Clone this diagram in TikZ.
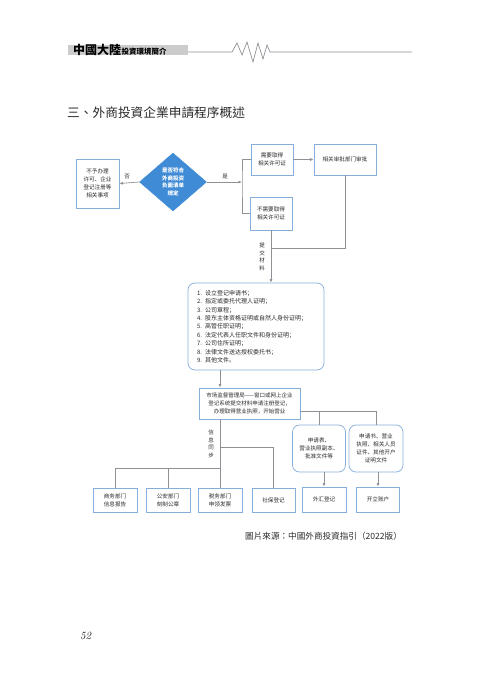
\documentclass[tikz,border=0pt]{standalone}
\usepackage{fontspec}
\usetikzlibrary{shapes.geometric,arrows.meta}
\newfontfamily\cjk{Noto Sans CJK SC}
\newfontfamily\cjktc{Noto Sans CJK TC}
\definecolor{bbl}{HTML}{86AEDB}
\definecolor{lgray}{HTML}{8E9196}
\definecolor{dblue}{HTML}{3F8BD6}
\definecolor{txt}{HTML}{2A2A2A}
\tikzset{
  box/.style={draw=bbl, line width=0.7pt, fill=white, inner sep=1pt, align=center,
    text=txt, font=\cjk\fontsize{5.6}{8}\selectfont},
  rbox/.style={box, rounded corners=7pt},
  conn/.style={draw=lgray, line width=0.7pt},
  arr/.style={conn, -{Latex[length=3.5pt,width=3pt]}},
  lab/.style={inner sep=0pt, text=txt, align=center, font=\cjk\fontsize{5.5}{7.6}\selectfont}
}
\begin{document}
\begin{tikzpicture}[x=1pt,y=-1pt]
\useasboundingbox (0,0) rectangle (480,679);
% header
\fill[gray!40] (68,45) rectangle (188,55);
\node[anchor=base west, inner sep=0pt, font=\cjktc\bfseries\fontsize{12}{12}\selectfont] (hd1) at (73,55) {中國大陸};
\node[anchor=base west, inner sep=0pt, font=\cjktc\bfseries\fontsize{7.5}{8}\selectfont] (hd2) at (hd1.base east) {投資環境簡介};
\draw[lgray, line width=0.7pt] (188,52) -- (232,52) -- (237,43) -- (242,55) -- (247,42) -- (253,62) -- (258,43) -- (263,59) -- (267,45) -- (270,52) -- (412,52);
% title
\node[anchor=west, inner sep=0pt, text=txt, font=\cjktc\fontsize{12.7}{13}\selectfont] (title) at (67,113) {三、外商投資企業申請程序概述};
% diagram
\node[diamond, fill=dblue, draw=dblue, inner sep=0pt, minimum width=67, minimum height=58, text=white, align=center, font=\cjk\bfseries\fontsize{5.5}{7.5}\selectfont] (d) at (173,182) {是否符合\\外商投资\\负面清单\\规定};
\node[box, minimum width=43, minimum height=49] (no) at (97.5,183.5) {不予办理\\许可、企业\\登记注册等\\相关事项};
\node[box, minimum width=42, minimum height=31] (need) at (272,159.5) {需要取得\\相关许可证};
\node[box, minimum width=42, minimum height=33] (noneed) at (271,213.5) {不需要取得\\相关许可证};
\node[box, minimum width=62, minimum height=31] (appr) at (345,159.5) {相关审批部门审批};
\node[rbox, minimum width=136, minimum height=87, text width=118pt, align=left, font=\cjk\fontsize{6}{8.4}\selectfont] (list) at (256,326.5) {1. 设立登记申请书；\\2. 指定或委托代理人证明；\\3. 公司章程；\\4. 股东主体资格证明或自然人身份证明；\\5. 高管任职证明；\\6. 法定代表人任职文件和身份证明；\\7. 公司住所证明；\\8. 法律文件送达授权委托书；\\9. 其他文件。};
\node[box, minimum width=101, minimum height=31, font=\cjk\fontsize{5.5}{7.8}\selectfont] (mkt) at (249.5,403.5) {市场监督管理局——窗口或网上企业\\登记系统提交材料申请注册登记，\\办理取得营业执照，开始营业};
\node[box, minimum width=44, minimum height=24] (b1) at (115,500) {商务部门\\信息报告};
\node[box, minimum width=44, minimum height=24] (b2) at (168,500) {公安部门\\刻制公章};
\node[box, minimum width=44, minimum height=24] (b3) at (220,500) {税务部门\\申领发票};
\node[box, minimum width=43, minimum height=24] (b4) at (273.5,500) {社保登记};
\node[rbox, minimum width=53, minimum height=47] (r1) at (319,448.5) {申请表、\\营业执照副本、\\批准文件等};
\node[rbox, minimum width=54, minimum height=47] (r2) at (376,448.5) {申请书、营业\\执照、相关人员\\证件、其他开户\\证明文件};
\node[box, minimum width=44, minimum height=25] (fx) at (324,499.5) {外汇登记};
\node[box, minimum width=43, minimum height=25] (acct) at (378,499.5) {开立账户};
% connectors
\draw[arr] (d.west) -- (no.east);
\node[lab] (lno) at (127,177) {否};
\coordinate (br) at (242,182);
\draw[arr] (d.east) -- (br);
\node[lab] (lyes) at (225,177) {是};
\draw[conn] (need.west) -| (br) |- (noneed.west);
\draw[arr] (need.east) -- (appr.west);
\coordinate (j1) at (271,248);
\draw[conn] (appr.south) |- (j1);
\draw[arr] (noneed.south) -- (noneed.south |- list.north);
\node[lab] (ltj) at (262,257) {提\\交\\材\\料};
\draw[arr] (list.south -| b3.north) -- (mkt.north -| b3.north);
\draw[conn] (mkt.south -| b3.north) -- (b3.north);
\coordinate (h1) at (220,468);
\coordinate (h2) at (220,447);
\draw[conn] (b1.north) |- (h1);
\draw[conn] (b2.north) -- (b2.north |- h1);
\draw[conn] (h2) -| (b4.north);
\node[lab] (lsync) at (211,444) {信\\息\\同\\步};
\coordinate (m1) at ([yshift=8pt]mkt.south east);
\draw[conn] (m1) -| (r2.north);
\draw[conn] (r1.north |- m1) -- (r1.north);
\draw[arr] (fx.north |- r1.south) -- (fx.north);
\draw[arr] (acct.north |- r2.south) -- (acct.north);
% caption
\node[anchor=west, inner sep=0pt, text=txt, font=\cjktc\fontsize{8.6}{9}\selectfont] (cap) at (245,536) {圖片來源：中國外商投資指引（2022版）};
\node[anchor=west, inner sep=0pt, font=\itshape\fontsize{11}{11}\selectfont] (pg) at (80,636) {52};
\end{tikzpicture}
\end{document}
